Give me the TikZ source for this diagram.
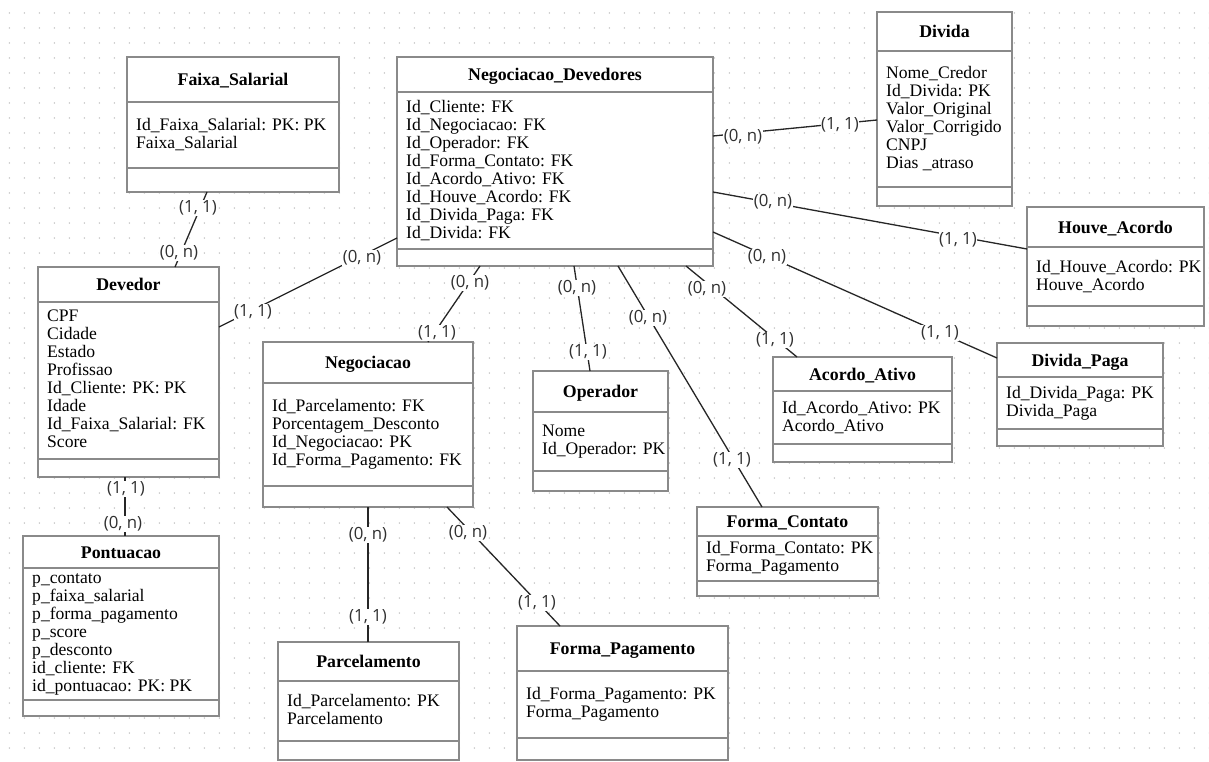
\documentclass[tikz,border=0pt]{standalone}
\usepackage{fontspec}
\setmainfont{Liberation Serif}
\newfontfamily\cardfont{Open Sans}

\definecolor{boxgray}{HTML}{8A8A8A}
\definecolor{dotgray}{HTML}{B8B8B8}
\definecolor{lblgray}{HTML}{303030}
\definecolor{linegray}{HTML}{262626}

% fixed line box for the attribute lists
\newcommand\rowstrut{\rule[-2.9pt]{0pt}{18pt}}

\tikzset{
  entbox/.style={draw=boxgray, line width=2pt, fill=white, inner sep=0pt, outer sep=0pt},
  entline/.style={draw=boxgray, line width=2pt},
  enttitle/.style={font=\fontsize{17.8}{18}\selectfont\bfseries, inner sep=0pt,
                   text height=12pt, text depth=0pt},
  entbody/.style={font=\fontsize{17.6}{18}\selectfont, align=left, inner sep=0pt,
                  execute at begin node=\rowstrut, execute at end node=\rowstrut},
  card/.style={font=\cardfont\fontsize{16.8}{17}\selectfont, text=lblgray, fill=white,
               inner sep=0.6pt, text height=12pt, text depth=3.2pt},
  rel/.style={draw=linegray, line width=1.3pt},
}

% entity: name, left, top, right, bottom, header rule, body rule, title, attributes
\newcommand\entity[9]{%
  \node[entbox, anchor=north west, minimum width={(#4-#2)*1pt},
        minimum height={(#5-#3)*1pt}] (#1) at (#2,#3) {};
  \draw[entline] (#2,#6) -- (#4,#6);
  \draw[entline] (#2,#7) -- (#4,#7);
  \node[enttitle] (#1-title) at ({(#2+#4)/2},{(#3+#6)/2}) {#8};
  \node[entbody, anchor=west] (#1-attr) at ({#2+9},{(#6+#7)/2}) {#9};
}

\begin{document}
\begin{tikzpicture}[x=1pt, y=-1pt]
  \useasboundingbox (0,0) rectangle (1209,762);
  \fill[white] (0,0) rectangle (1209,762);

  % dotted grid
  \foreach \i in {0,...,80} {
    \foreach \j in {0,...,50} {
      \fill[dotgray] ({9.3+15*\i},{13+15*\j}) circle (0.75pt);
    }
  }

  % entities
  \entity{fs}{127}{57}{339}{192}{102}{168}{Faixa\_Salarial}
    {Id\_Faixa\_Salarial: PK: PK\\Faixa\_Salarial}
  \entity{nd}{397}{57}{713}{266}{92}{249}{Negociacao\_Devedores}
    {Id\_Cliente: FK\\Id\_Negociacao: FK\\Id\_Operador: FK\\Id\_Forma\_Contato: FK\\Id\_Acordo\_Ativo: FK\\Id\_Houve\_Acordo: FK\\Id\_Divida\_Paga: FK\\Id\_Divida: FK}
  \entity{dv}{877}{12}{1012}{206}{51}{187}{Divida}
    {Nome\_Credor\\Id\_Divida: PK\\Valor\_Original\\Valor\_Corrigido\\CNPJ\\Dias \_atraso}
  \entity{ha}{1027}{207}{1204}{326}{247}{306}{Houve\_Acordo}
    {Id\_Houve\_Acordo: PK\\Houve\_Acordo}
  \entity{de}{38}{267}{219}{477}{302}{459}{Devedor}
    {CPF\\Cidade\\Estado\\Profissao\\Id\_Cliente: PK: PK\\Idade\\Id\_Faixa\_Salarial: FK\\Score}
  \entity{ng}{263}{342}{473}{507}{383}{486}{Negociacao}
    {Id\_Parcelamento: FK\\Porcentagem\_Desconto\\Id\_Negociacao: PK\\Id\_Forma\_Pagamento: FK}
  \entity{op}{533}{371}{668}{491}{412}{471}{Operador}
    {Nome\\Id\_Operador: PK}
  \entity{aa}{773}{357}{952}{462}{391}{444}{Acordo\_Ativo}
    {Id\_Acordo\_Ativo: PK\\Acordo\_Ativo}
  \entity{dp}{997}{343}{1163}{446}{377}{429}{Divida\_Paga}
    {Id\_Divida\_Paga: PK\\Divida\_Paga}
  \entity{po}{23}{536}{219}{716}{568}{700}{Pontuacao}
    {p\_contato\\p\_faixa\_salarial\\p\_forma\_pagamento\\p\_score\\p\_desconto\\id\_cliente: FK\\id\_pontuacao: PK: PK}
  \entity{pa}{278}{642}{459}{760}{681}{741}{Parcelamento}
    {Id\_Parcelamento: PK\\Parcelamento}
  \entity{fp}{517}{626}{728}{760}{671}{738}{Forma\_Pagamento}
    {Id\_Forma\_Pagamento: PK\\Forma\_Pagamento}
  \entity{fc}{697}{507}{878}{596}{536}{581}{Forma\_Contato}
    {Id\_Forma\_Contato: PK\\Forma\_Pagamento}

  % relationships
  \draw[rel] ([xshift=-26pt]fs.south) -- ([xshift=46.5pt]de.north);
  \draw[rel] ([yshift=-76.5pt]nd.west) -- ([yshift=45pt]de.east);
  \draw[rel] ([xshift=-75pt]nd.south) -- ([xshift=60pt]ng.north);
  \draw[rel] ([xshift=19pt]nd.south) -- ([xshift=-10.5pt]op.north);
  \draw[rel] ([xshift=63pt]nd.south) -- ([xshift=-25.5pt]fc.north);
  \draw[rel] ([xshift=131pt]nd.south) -- ([xshift=-65.5pt]aa.north);
  \draw[rel] ([yshift=-70.5pt]nd.east) -- ([yshift=36.5pt]dp.west);
  \draw[rel] ([yshift=-30.5pt]nd.east) -- ([yshift=17.5pt]ha.west);
  \draw[rel] ([yshift=25.5pt]nd.east) -- ([yshift=-11pt]dv.west);
  \draw[rel] ([xshift=-3.5pt]de.south) -- ([xshift=4pt]po.north);
  \draw[rel] (ng.south) -- ([xshift=-0.5pt]pa.north);
  \draw[rel] ([xshift=79pt]ng.south) -- ([xshift=-62.5pt]fp.north);

  % cardinalities
  \node[card] (c1a) at (198,208) {(1, 1)};
  \node[card] (c1b) at (179,253) {(0, n)};
  \node[card] (c2a) at (362,258) {(0, n)};
  \node[card] (c2b) at (253,312) {(1, 1)};
  \node[card] (c3a) at (470,283) {(0, n)};
  \node[card] (c3b) at (437,333) {(1, 1)};
  \node[card] (c4a) at (577,288) {(0, n)};
  \node[card] (c4b) at (588,352) {(1, 1)};
  \node[card] (c5a) at (648,318) {(0, n)};
  \node[card] (c5b) at (732,460) {(1, 1)};
  \node[card] (c6a) at (707,289) {(0, n)};
  \node[card] (c6b) at (775,340) {(1, 1)};
  \node[card] (c7a) at (767,257) {(0, n)};
  \node[card] (c7b) at (940,333) {(1, 1)};
  \node[card] (c8a) at (773,202) {(0, n)};
  \node[card] (c8b) at (958,240) {(1, 1)};
  \node[card] (c9a) at (743,137) {(0, n)};
  \node[card] (c9b) at (840,125) {(1, 1)};
  \node[card] (c10a) at (126,489) {(1, 1)};
  \node[card] (c10b) at (123,524) {(0, n)};
  \node[card] (c11a) at (368,535) {(0, n)};
  \node[card] (c11b) at (368,617) {(1, 1)};
  \node[card] (c12a) at (468,533) {(0, n)};
  \node[card] (c12b) at (537,603) {(1, 1)};
\end{tikzpicture}
\end{document}
